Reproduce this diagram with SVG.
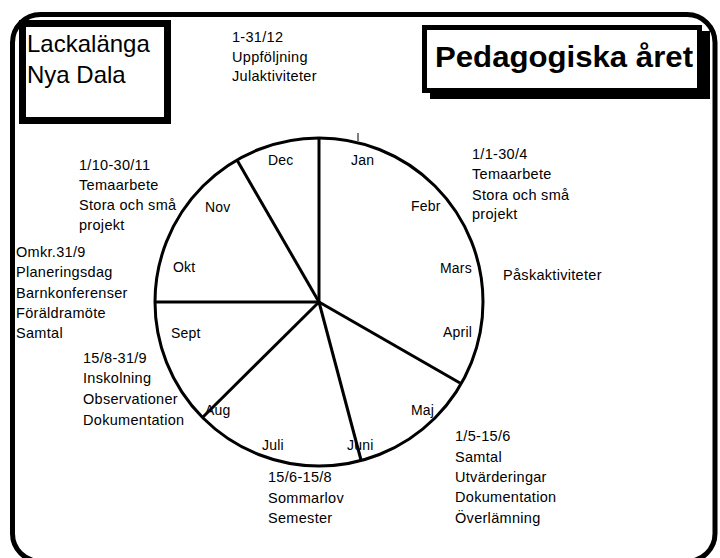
<svg xmlns="http://www.w3.org/2000/svg" width="720" height="558" viewBox="0 0 720 558">
<style>
text{font-family:"Liberation Sans",Arial,sans-serif;fill:#000}
.t{font-size:14.5px;letter-spacing:0.3px}
.m{font-size:14px;letter-spacing:0.2px}
.line{stroke:#000;stroke-width:3;fill:none;stroke-linecap:butt}
</style>
<rect width="720" height="558" fill="#fff"/>
<g id="frame">
<rect x="12.5" y="14.5" width="702.5" height="547" rx="28" ry="28" fill="none" stroke="#000" stroke-width="5"/>
</g>
<g id="location">
<rect x="22.5" y="23.5" width="145" height="97" fill="#fff" stroke="#000" stroke-width="7"/>
<text x="27" y="52" font-size="24">Lackalänga</text>
<text x="27" y="83" font-size="24">Nya Dala</text>
</g>
<g id="title">
<rect x="430" y="31" width="280" height="68" fill="#000"/>
<rect x="424.5" y="27.5" width="275" height="63" fill="#fff" stroke="#000" stroke-width="5"/>
<text x="435" y="67" font-size="30" font-weight="bold" textLength="258" lengthAdjust="spacingAndGlyphs">Pedagogiska året</text>
</g>
<g id="wheel">
<circle cx="319" cy="302" r="164" class="line"/>
<line x1="358" y1="133" x2="358" y2="141" stroke="#000" stroke-width="1"/>
</g>
<g id="connectors">
<line class="line" x1="319" y1="302" x2="319" y2="138"/>
<line class="line" x1="319" y1="302" x2="237" y2="160"/>
<line class="line" x1="319" y1="302" x2="155" y2="302"/>
<line class="line" x1="319" y1="302" x2="203" y2="417"/>
<line class="line" x1="319" y1="302" x2="361" y2="460"/>
<line class="line" x1="319" y1="302" x2="460" y2="383"/>
</g>
<g id="months">
<text class="m" x="268" y="165">Dec</text>
<text class="m" x="351" y="165">Jan</text>
<text class="m" x="411" y="211">Febr</text>
<text class="m" x="440" y="273">Mars</text>
<text class="m" x="443" y="337">April</text>
<text class="m" x="411" y="415">Maj</text>
<text class="m" x="347" y="450">Juni</text>
<text class="m" x="262" y="450">Juli</text>
<text class="m" x="205" y="415">Aug</text>
<text class="m" x="171" y="338">Sept</text>
<text class="m" x="173" y="272">Okt</text>
<text class="m" x="205" y="212">Nov</text>
</g>
<g id="note-dec">
<text class="t" x="232" y="42">1-31/12</text>
<text class="t" x="232" y="61.5">Uppföljning</text>
<text class="t" x="232" y="81">Julaktiviteter</text>
</g>
<g id="note-jan">
<text class="t" x="472" y="159">1/1-30/4</text>
<text class="t" x="472" y="179">Temaarbete</text>
<text class="t" x="472" y="199.5">Stora och små</text>
<text class="t" x="472" y="219">projekt</text>
</g>
<g id="note-mars">
<text class="t" x="503" y="280">Påskaktiviteter</text>
</g>
<g id="note-maj">
<text class="t" x="455" y="441">1/5-15/6</text>
<text class="t" x="455" y="461.5">Samtal</text>
<text class="t" x="455" y="481.5">Utvärderingar</text>
<text class="t" x="455" y="502">Dokumentation</text>
<text class="t" x="455" y="522.5">Överlämning</text>
</g>
<g id="note-juli">
<text class="t" x="268" y="482">15/6-15/8</text>
<text class="t" x="268" y="502.5">Sommarlov</text>
<text class="t" x="268" y="523">Semester</text>
</g>
<g id="note-aug">
<text class="t" x="83" y="362.5">15/8-31/9</text>
<text class="t" x="83" y="383">Inskolning</text>
<text class="t" x="83" y="404">Observationer</text>
<text class="t" x="83" y="424.5">Dokumentation</text>
</g>
<g id="note-okt">
<text class="t" x="16" y="257">Omkr.31/9</text>
<text class="t" x="16" y="277">Planeringsdag</text>
<text class="t" x="16" y="297.5">Barnkonferenser</text>
<text class="t" x="16" y="318">Föräldramöte</text>
<text class="t" x="16" y="338">Samtal</text>
</g>
<g id="note-nov">
<text class="t" x="79" y="169.5">1/10-30/11</text>
<text class="t" x="79" y="190">Temaarbete</text>
<text class="t" x="79" y="210">Stora och små</text>
<text class="t" x="79" y="230">projekt</text>
</g>
</svg>
